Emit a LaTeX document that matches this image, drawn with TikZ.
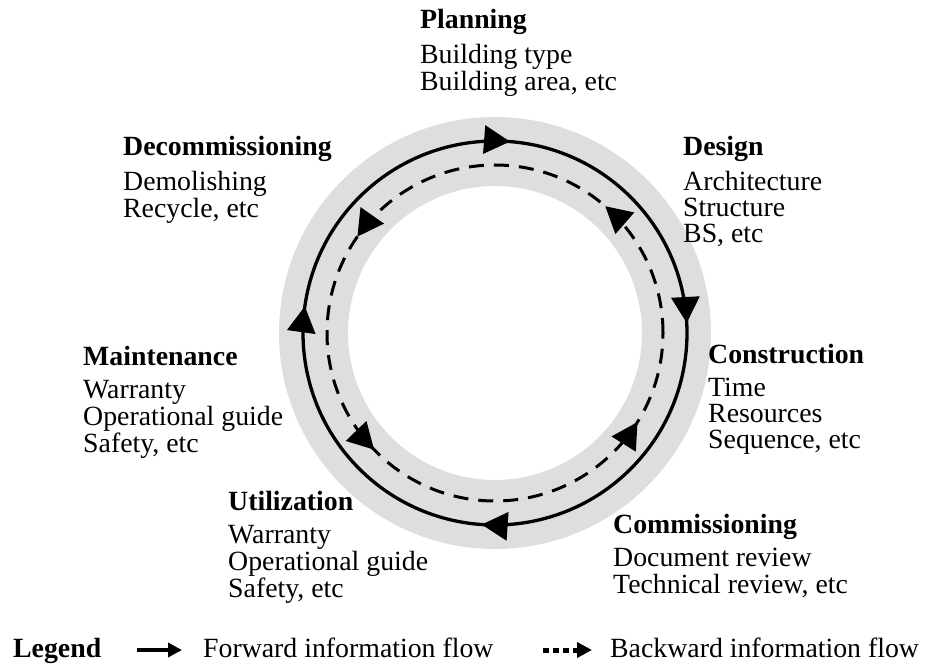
\documentclass[tikz,border=0pt]{standalone}
\usepackage{fontspec}
\setmainfont{Liberation Serif}
\usetikzlibrary{arrows.meta,decorations.markings,calc}
\definecolor{ringgray}{gray}{0.87}
\tikzset{
  lbl/.style={anchor=base west,inner sep=0pt,font=\fontsize{27.8bp}{26bp}\selectfont},
  bigtip/.tip={Triangle[length=26bp,width=28bp]},
  flowline/.style={line width=3.3bp},
}
\newcommand{\blk}[2]{\begin{tabular}[t]{@{}l@{}}\textbf{#1}\\[7bp]#2\end{tabular}}
\begin{document}
\begin{tikzpicture}[x=1bp,y=1bp]
\useasboundingbox (0,0) rectangle (926,-666);
\coordinate (c) at (495,-333);
% gray ring
\fill[ringgray,even odd rule] (c) circle[radius=216] (c) circle[radius=147];
% solid forward circle, clockwise from 45 deg
\draw[flowline,postaction={decorate},
  decoration={markings,
    mark=at position 0.1167 with {\arrow{bigtip}},
    mark=at position 0.3861 with {\arrow{bigtip}},
    mark=at position 0.6472 with {\arrow{bigtip}},
    mark=at position 0.8875 with {\arrow{bigtip}}}]
  ($(c)+(45:192)$) arc[start angle=45,end angle=-315,radius=192];
% dashed backward circle, counterclockwise
\draw[line width=3bp,dash pattern=on 15bp off 10bp,postaction={decorate},
  decoration={markings,
    mark=at position 0.1361 with {\arrow{bigtip}},
    mark=at position 0.4028 with {\arrow{bigtip}},
    mark=at position 0.6222 with {\arrow{bigtip}},
    mark=at position 0.9111 with {\arrow{bigtip}}}]
  ($(c)+(168,0)$) arc[start angle=0,end angle=360,radius=168];
% labels
\node[lbl] (planning) at (420,-29) {\blk{Planning}{Building type\\ Building area, etc}};
\node[lbl] (decom) at (123,-156) {\blk{Decommissioning}{Demolishing\\ Recycle, etc}};
\node[lbl] (design) at (683,-156) {\blk{Design}{Architecture\\ Structure\\ BS, etc}};
\node[lbl] (maint) at (83,-365) {\blk{Maintenance}{Warranty\\ Operational guide\\ Safety, etc}};
\node[lbl] (constr) at (708,-363) {\blk{Construction}{Time\\ Resources\\ Sequence, etc}};
\node[lbl] (util) at (228,-510) {\blk{Utilization}{Warranty\\ Operational guide\\ Safety, etc}};
\node[lbl] (comm) at (613,-533) {\blk{Commissioning}{Document review\\ Technical review, etc}};
% legend
\node[lbl] (legend) at (13,-657) {\textbf{Legend}};
\coordinate (fa) at (137,-650);
\coordinate (fb) at (182,-650);
\draw[line width=4.5bp,-{Triangle[length=14bp,width=14bp]}] (fa) -- (fb);
\node[lbl] (fwd) at (203,-657) {Forward information flow};
\coordinate (ba) at (543,-650);
\coordinate (bb) at (592,-650);
\draw[line width=5bp,dash pattern=on 6bp off 4bp,-{Triangle[length=15bp,width=15bp]}] (ba) -- (bb);
\node[lbl] (bwd) at (610,-657) {Backward information flow};
\end{tikzpicture}
\end{document}
